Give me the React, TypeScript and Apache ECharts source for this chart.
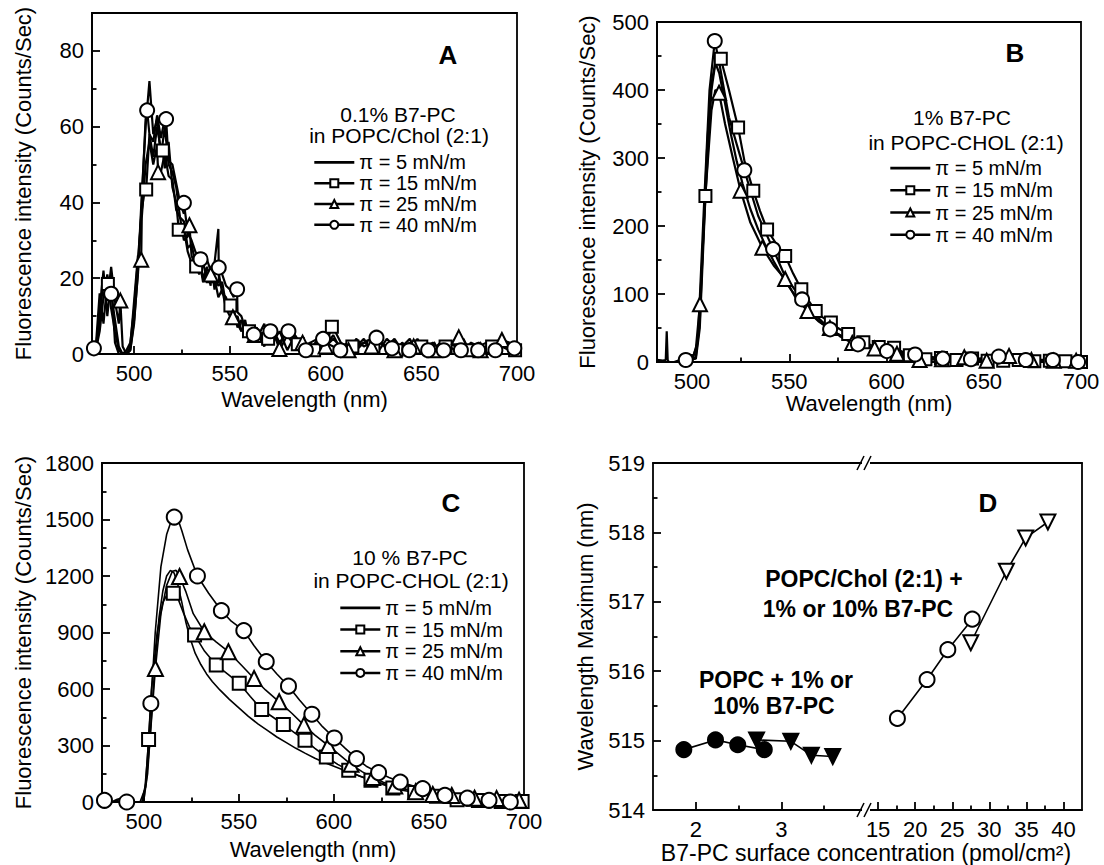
import React, { useEffect, useRef } from "react";
import * as echarts from "echarts";

const FONT = '"Liberation Sans", Arial, Helvetica, sans-serif';
const LEGEND_NAMES = ["π = 5 mN/m", "π = 15 mN/m", "π = 25 mN/m", "π = 40 mN/m"];

// ---------- tick values ----------
const WL_MAJOR = [500, 550, 600, 650, 700];
const WL_MINOR = [525, 575, 625, 675];
const A_Y_MAJOR = [0, 20, 40, 60, 80];
const A_Y_MINOR = [10, 30, 50, 70];
const B_Y_MAJOR = [0, 100, 200, 300, 400, 500];
const B_Y_MINOR = [50, 150, 250, 350, 450];
const C_Y_MAJOR = [0, 300, 600, 900, 1200, 1500, 1800];
const C_Y_MINOR = [150, 450, 750, 1050, 1350, 1650];
const D_Y_MAJOR = [514, 515, 516, 517, 518, 519];
const D_Y_MINOR = [514.5, 515.5, 516.5, 517.5, 518.5];
const D_XL_MAJOR = [2, 3];
const D_XL_MINOR = [2.5, 3.5];
const D_XR_MAJOR = [15, 20, 25, 30, 35, 40];
const D_XR_MINOR = [17.5, 22.5, 27.5, 32.5, 37.5];

// ---------- panel A (0.1% B7-PC) ----------
const A_WL = [480, 482, 484, 486, 488, 490, 492, 494, 496, 498, 500, 502, 504, 506, 508, 510, 512, 514, 516, 518, 520, 522, 524, 526, 528, 530, 532, 534, 536, 538, 540, 542, 544, 546, 548, 550, 552, 554, 556, 558, 560, 564, 568, 572, 576, 580, 584, 588, 592, 596, 600, 604, 608, 612, 616, 620, 624, 628, 632, 636, 640, 644, 648, 652, 656, 660, 664, 668, 672, 676, 680, 684, 688, 692, 696, 700];
const A_P5 = [1, 12, 22, 10, 20, 3, 0, 0, 0, 1, 8, 22, 42, 60, 72, 58, 62, 52, 60, 50, 48, 44, 36, 35, 28, 29, 24, 25, 20, 23, 19, 21, 18, 19, 13, 13, 9, 10, 6, 8, 5, 7, 3, 6, 2, 7, 3, 4, 1, 4, 2, 5, 1, 3, 2, 4, 1, 3, 2, 4, 1, 3, 2, 3, 1, 3, 2, 4, 1, 3, 2, 3, 1, 3, 2, 2];
const A_P15 = [2, 16, 8, 19, 12, 6, 1, 0, 1, 3, 12, 25, 38, 45, 58, 52, 60, 54, 49, 56, 44, 40, 32, 33, 27, 24, 26, 21, 24, 20, 21, 17, 22, 16, 15, 11, 12, 7, 9, 5, 7, 4, 8, 3, 6, 1, 5, 2, 3, 5, 2, 7, 3, 1, 4, 2, 3, 1, 4, 2, 3, 1, 4, 2, 3, 1, 3, 2, 4, 2, 3, 1, 3, 2, 3, 1];
const A_P25 = [0, 9, 20, 14, 23, 14, 8, 2, 0, 2, 14, 26, 36, 50, 56, 50, 55, 48, 53, 47, 46, 38, 36, 30, 31, 26, 23, 25, 19, 22, 18, 20, 15, 17, 12, 10, 11, 8, 6, 9, 4, 6, 2, 7, 1, 5, 2, 4, 2, 3, 1, 4, 2, 3, 1, 3, 2, 4, 1, 3, 2, 4, 1, 3, 2, 3, 1, 4, 3, 1, 3, 2, 3, 1, 3, 2];
const A_P40 = [1, 6, 15, 21, 15, 9, 2, 0, 0, 1, 9, 21, 40, 62, 58, 56, 63, 57, 62, 51, 50, 45, 40, 37, 32, 30, 27, 26, 24, 25, 22, 24, 33, 21, 18, 17, 15, 11, 10, 7, 5, 6, 5, 7, 3, 6, 5, 2, 3, 4, 3, 2, 1, 3, 2, 3, 4, 3, 2, 1, 2, 1, 2, 1, 2, 1, 2, 1, 2, 1, 2, 1, 1, 2, 1, 1];
const A_M15 = [[486.3, 18.5], [506.3, 43.4], [515, 53.7], [523.3, 32.8], [532.4, 23.1], [541.1, 20.5], [550.3, 12.8], [560, 6], [570, 4], [585.5, 2.6], [594, 1], [603.3, 7.2], [614, 2], [625, 2], [637, 1], [650, 2], [662.7, 2], [675, 1], [687, 2], [699, 1]];
const A_M25 = [[492.8, 14.1], [503.7, 24.9], [512.5, 48], [528.9, 34], [540, 21], [551.6, 9.7], [563, 5], [575.9, 1.3], [588, 3], [600, 2], [612, 1], [624, 2], [636, 1], [646, 2], [657, 1], [669.6, 4.4], [681, 1], [692.1, 3.7]];
const A_M40 = [[479, 1.5], [488, 15.9], [506.8, 64.3], [516.7, 62], [526, 39.9], [534.7, 25], [544.2, 22.8], [553.8, 17.1], [562.5, 5.1], [571.2, 6], [580.6, 6], [589.7, 1], [598.7, 4], [607.7, 1], [626.6, 4.3], [634.7, 1.5], [643.7, 1], [653.6, 1], [661.7, 1], [670.7, 1], [679.7, 1], [688.7, 1], [698.6, 1.5]];

// ---------- panel B (1% B7-PC) ----------
const B_P5_LINE = [[482, 3], [485, 2], [486.5, 3], [487, 45], [487.5, 3], [489, -4], [491, -5], [493, 0], [496, 3], [500, 3], [502, 8], [504, 60], [506, 200], [508, 330], [510, 410], [512, 440], [514, 425], [516, 395], [518, 365], [520, 335], [523, 295], [526, 262], [530, 225], [534, 195], [538, 170], [542, 148], [546, 128], [550, 110], [555, 90], [560, 74], [566, 58], [572, 46], [580, 33], [588, 24], [596, 17], [604, 12], [612, 9], [620, 6], [630, 4], [640, 3], [650, 3], [660, 2], [670, 2], [680, 2], [690, 1], [700, 1]];
const B_P15_LINE = [[482, 1], [488, -3], [493, 2], [498, 3], [502, 5], [504, 50], [510, 400], [512, 440], [519, 400], [527, 295], [535, 222], [543, 175], [552, 130], [560, 90], [567, 66], [575, 50], [584, 35], [592, 25]];
const B_P15_MARK = [[506.9, 244], [514.8, 446], [523.7, 345], [531.5, 252], [538.6, 195], [547.9, 156], [556.2, 107], [563.6, 75], [571.4, 58], [580.3, 41], [588.1, 29], [596, 22], [603.9, 21], [612, 10], [620, 4], [628, 6], [636, 3], [644, 5], [652, 2], [660, 2], [668, 3], [676, 1], [684, 2], [692, 1], [700, 0]];
const B_P25_LINE = [[482, 0], [488, -2], [494, 1], [500, 2], [502, 20], [507, 250], [510, 370], [512, 400], [517, 350], [521, 300], [530, 205], [542, 142], [553, 96], [565, 60], [576, 38], [588, 24], [600, 16]];
const B_P25_MARK = [[504.1, 85], [513.9, 396], [525, 252], [536.2, 168], [547.9, 122], [559.4, 75], [570.9, 50], [582.4, 28], [593.9, 20], [605.4, 12], [617, 3], [628.5, 4], [640, 7], [651.5, 2], [663, 9], [674.5, 3], [686, 2], [697.5, 2]];
const B_P40_LINE = [[482, 2], [486, 0], [490, -3], [493, 0], [500, 3], [503, 30], [506, 220], [509, 400], [514, 440], [519, 360], [523, 320], [534, 215], [548, 125], [563, 70], [578, 36]];
const B_P40_MARK = [[496.8, 3], [511.7, 472], [526.9, 282], [541.7, 166], [556.6, 92], [571, 48], [585.3, 26], [600.2, 16], [614.7, 11], [629, 5], [643.4, 4], [657.7, 8], [671.6, 3], [685.5, 3], [698.5, 0]];

// ---------- panel C (10% B7-PC) ----------
const C_P5_LINE = [[478, 8], [480, 0], [483, -5], [486, 15], [488, 20], [490, 5], [492, -8], [494, 0], [496, -5], [498, -3], [500, 10], [502, 150], [504, 450], [506, 750], [508, 980], [510, 1120], [512, 1200], [514, 1230], [516, 1215], [518, 1150], [520, 1060], [522, 960], [524, 880], [527, 790], [530, 730], [533, 680], [536, 640], [540, 595], [545, 545], [550, 500], [555, 455], [560, 415], [565, 380], [570, 345], [575, 315], [580, 285], [585, 258], [590, 232], [595, 210], [600, 190], [610, 150], [620, 115], [630, 85], [640, 62], [650, 44], [660, 30], [670, 19], [680, 11], [690, 6], [700, 3]];
const C_P15_LINE = [[478, 5], [481, -8], [484, 0], [487, 12], [490, -3], [493, -10], [496, -5], [499, 0], [501, 100], [504, 600], [507, 900], [510, 1060], [513, 1115], [518, 1080], [521, 1000], [524, 930], [532, 800], [544, 680], [556, 560], [568, 450], [579, 370], [590, 285], [602, 200], [613, 140], [625, 95], [636, 62], [648, 40], [659, 20], [670, 10], [682, 5], [694, 2], [700, 2]];
const C_P15_MARK = [[502.5, 332], [515.5, 1108], [526.7, 887], [538.1, 727], [550.2, 630], [562, 491], [573.4, 411], [584.8, 328], [596, 239], [607.8, 168], [619.5, 115], [631, 75], [642.5, 50], [653.9, 30], [664.8, 12], [676, 8], [688, 3], [699, 2]];
const C_P25_LINE = [[478, 0], [482, 5], [486, -5], [490, 10], [494, -5], [498, 0], [501, 80], [503, 300], [509, 1000], [512, 1150], [515, 1225], [517, 1230], [522, 1120], [526, 1000], [538, 850], [551, 730], [564, 595], [578, 470], [590, 355], [603, 250], [615, 160], [626, 105], [638, 68], [648, 48], [657, 38], [668, 28], [680, 15], [691, 12], [700, 6]];
const C_P25_MARK = [[506.1, 709], [518.8, 1197], [531.8, 904], [544.5, 798], [558, 656], [571.2, 532], [584.2, 408], [597, 300], [609, 200], [620.4, 130], [632, 85], [643, 55], [652, 40], [662, 35], [674, 20], [685.6, 18], [697.4, 9]];
const C_P40_LINE = [[482, -5], [485, 10], [488, -8], [494, -10], [497, -5], [500, 0], [502, 250], [506, 900], [509, 1250], [512, 1420], [514, 1480], [518, 1500], [520, 1440], [523, 1340], [534, 1110], [546, 960], [558, 830], [570, 680], [582, 540], [594, 400], [606, 285], [617, 190], [629, 130], [641, 88], [652, 52], [664, 28], [676, 15], [687, 5], [700, 0]];
const C_P40_MARK = [[479.3, 9], [491, 0], [503.7, 523], [516, 1513], [528.2, 1200], [540.8, 1016], [552.6, 910], [564.4, 745], [576.1, 615], [588.4, 466], [600.2, 340], [611.9, 230], [623.5, 156], [634.9, 106], [646.7, 71], [658.4, 35], [670.2, 21], [681.6, 9], [692.8, 0]];

// ---------- panel D (wavelength maximum) ----------
const D_POPC1_X = [1.86, 2.23, 2.49, 2.8];
const D_POPC1_Y = [514.87, 515.01, 514.94, 514.87];
const D_POPC10_X = [2.71, 3.11, 3.35, 3.6];
const D_POPC10_Y = [515.01, 514.99, 514.79, 514.77];
const D_CHOL1_X = [17.6, 21.6, 24.4, 27.7];
const D_CHOL1_Y = [515.32, 515.88, 516.31, 516.75];
const D_CHOL10_X = [27.5, 32.3, 34.9, 37.9];
const D_CHOL10_Y = [516.41, 517.44, 517.92, 518.15];

type P = number[];

function merged(line: P[], marks: P[]) {
  const items: any[] = [
    ...line.map((p) => ({ value: p, symbol: "none" })),
    ...marks.map((p) => ({ value: p })),
  ];
  items.sort((a, b) => a.value[0] - b.value[0]);
  return items;
}

function zip(xs: number[], ys: number[]) {
  return xs.map((x, i) => [x, ys[i]]);
}

function buildOption() {
  const xAxis: any[] = [];
  const yAxis: any[] = [];
  const lineSt = { color: "#000", width: 1.8 };
  const labelSt = { color: "#000", fontSize: 22, fontFamily: FONT, margin: 8, formatter: (v: number) => String(v) };
  const nameSt = { color: "#000", fontSize: 22, fontFamily: FONT };

  function addAxis(list: any[], dim: "x" | "y", grid: number, min: number, max: number, major: number[], minor: number[], extra: any = {}) {
    const pos = dim === "x" ? "bottom" : "left";
    const base = { type: "value", gridIndex: grid, min, max, position: pos, splitLine: { show: false }, minorTick: { show: false } };
    const idx = list.length;
    list.push({
      ...base,
      axisLine: { show: true, onZero: false, lineStyle: lineSt },
      axisTick: { show: true, inside: true, length: 8, customValues: major, lineStyle: lineSt },
      axisLabel: { ...labelSt, customValues: major },
      nameTextStyle: nameSt,
      nameLocation: "middle",
      ...extra,
    });
    list.push({
      ...base,
      axisLine: { show: false, onZero: false },
      axisTick: { show: true, inside: true, length: 4.5, customValues: minor, lineStyle: lineSt },
      axisLabel: { show: false },
    });
    return idx;
  }
  function addPlain(list: any[], grid: number, min: number, max: number, position: string) {
    const idx = list.length;
    list.push({
      type: "value", gridIndex: grid, min, max, position,
      axisLine: { show: true, onZero: false, lineStyle: lineSt },
      axisTick: { show: false }, axisLabel: { show: false }, splitLine: { show: false },
    });
    return idx;
  }

  const boxed = { show: true, borderColor: "#000", borderWidth: 1.8, backgroundColor: "transparent", outerBoundsMode: "none" };
  const grid = [
    { left: 92, top: 13, width: 425, height: 341, ...boxed },
    { left: 657, top: 22, width: 424, height: 340, ...boxed },
    { left: 102, top: 463, width: 422, height: 339, ...boxed },
    { left: 653, top: 463, width: 214, height: 347, show: false, outerBoundsMode: "none" },
    { left: 867, top: 463, width: 215, height: 347, show: false, outerBoundsMode: "none" },
  ];

  const yTitle = "Fluorescence intensity (Counts/Sec)";
  const xTitle = "Wavelength (nm)";

  const axA = addAxis(xAxis, "x", 0, 478, 700, WL_MAJOR, WL_MINOR, { name: xTitle, nameGap: 34 });
  const ayA = addAxis(yAxis, "y", 0, 0, 90, A_Y_MAJOR, A_Y_MINOR, { name: yTitle, nameGap: 58 });
  const axB = addAxis(xAxis, "x", 1, 482, 700, WL_MAJOR, WL_MINOR, { name: xTitle, nameGap: 26 });
  const ayB = addAxis(yAxis, "y", 1, 0, 500, B_Y_MAJOR, B_Y_MINOR, { name: yTitle, nameGap: 59 });
  const axC = addAxis(xAxis, "x", 2, 478, 700, WL_MAJOR, WL_MINOR, { name: xTitle, nameGap: 36 });
  const ayC = addAxis(yAxis, "y", 2, 0, 1800, C_Y_MAJOR, C_Y_MINOR, { name: yTitle, nameGap: 68 });
  const axDL = addAxis(xAxis, "x", 3, 1.5, 4, D_XL_MAJOR, D_XL_MINOR);
  addPlain(xAxis, 3, 1.5, 4, "top");
  const ayDL = addAxis(yAxis, "y", 3, 514, 519, D_Y_MAJOR, D_Y_MINOR, { name: "Wavelength Maximum (nm)", nameGap: 57 });
  const axDR = addAxis(xAxis, "x", 4, 13.5, 42.5, D_XR_MAJOR, D_XR_MINOR);
  addPlain(xAxis, 4, 13.5, 42.5, "top");
  const ayDR = addPlain(yAxis, 4, 514, 519, "right");

  function curve(name: string, data: any[], symbol: string, size: number, xi: number, yi: number, extra: any = {}) {
    return {
      type: "line", name, xAxisIndex: xi, yAxisIndex: yi, data, symbol, symbolSize: size,
      clip: true, silent: true, animation: false,
      lineStyle: { color: "#000", width: 2.2 },
      itemStyle: { color: "#000", borderColor: "#000", borderWidth: 2 },
      emphasis: { disabled: true },
      ...extra,
    };
  }

  const aLine = (vals: number[]) => A_WL.map((w, i) => [w, vals[i]]);
  const thin = { lineStyle: { color: "#000", width: 1.6 } };

  const series: any[] = [
    curve(LEGEND_NAMES[0], merged(aLine(A_P5), []), "none", 0, axA, ayA),
    curve(LEGEND_NAMES[1], merged(aLine(A_P15), A_M15), "emptyRect", 12, axA, ayA),
    curve(LEGEND_NAMES[2], merged(aLine(A_P25), A_M25), "emptyTriangle", 14, axA, ayA),
    curve(LEGEND_NAMES[3], merged(aLine(A_P40), A_M40), "emptyCircle", 14, axA, ayA),

    curve(LEGEND_NAMES[0], merged(B_P5_LINE, []), "none", 0, axB, ayB),
    curve(LEGEND_NAMES[1], merged(B_P15_LINE, B_P15_MARK), "emptyRect", 12, axB, ayB),
    curve(LEGEND_NAMES[2], merged(B_P25_LINE, B_P25_MARK), "emptyTriangle", 14, axB, ayB),
    curve(LEGEND_NAMES[3], merged(B_P40_LINE, B_P40_MARK), "emptyCircle", 14, axB, ayB),

    curve(LEGEND_NAMES[0], merged(C_P5_LINE, []), "none", 0, axC, ayC, thin),
    curve(LEGEND_NAMES[1], merged(C_P15_LINE, C_P15_MARK), "emptyRect", 13, axC, ayC, thin),
    curve(LEGEND_NAMES[2], merged(C_P25_LINE, C_P25_MARK), "emptyTriangle", 15, axC, ayC, thin),
    curve(LEGEND_NAMES[3], merged(C_P40_LINE, C_P40_MARK), "emptyCircle", 15, axC, ayC, thin),

    curve("POPC + 1% B7-PC", zip(D_POPC1_X, D_POPC1_Y), "circle", 15, axDL, ayDL, thin),
    curve("POPC + 10% B7-PC", zip(D_POPC10_X, D_POPC10_Y), "triangle", 15, axDL, ayDL, { symbolRotate: 180, ...thin }),
    curve("POPC/Chol + 1% B7-PC", zip(D_CHOL1_X, D_CHOL1_Y), "emptyCircle", 15, axDR, ayDR, thin),
    curve("POPC/Chol + 10% B7-PC", zip(D_CHOL10_X, D_CHOL10_Y), "emptyTriangle", 15, axDR, ayDR, { symbolRotate: 180, ...thin }),
  ];

  const legendData = [{ name: LEGEND_NAMES[0], itemStyle: { opacity: 0 } }, LEGEND_NAMES[1], LEGEND_NAMES[2], LEGEND_NAMES[3]];
  const mkLegend = (left: number, top: number, lh: number) => ({
    data: legendData, left, top, orient: "vertical", itemWidth: 40, itemHeight: 10, itemGap: 0, padding: 0,
    selectedMode: false, inactiveColor: "#000",
    lineStyle: { width: 2.6 },
    textStyle: { fontSize: 20, color: "#000", fontFamily: FONT, lineHeight: lh },
  });
  const legend = [mkLegend(313, 152, 20.8), mkLegend(889, 157, 22.2), mkLegend(339, 597, 21.7)];

  const txt = (text: string, x: number, y: number, size: number, bold = false) => ({
    type: "text", x, y, z: 100, silent: true,
    style: { text, fill: "#000", fontSize: size, fontFamily: FONT, fontWeight: bold ? "bold" : "normal", align: "center", verticalAlign: "middle", textAlign: "center", textVerticalAlign: "middle" },
  });
  const brk = (y: number) => [
    { type: "rect", z: 100, silent: true, shape: { x: 862, y: y - 4, width: 8, height: 8 }, style: { fill: "#fff" } },
    { type: "line", z: 101, silent: true, shape: { x1: 857, y1: y + 7, x2: 864, y2: y - 7 }, style: { stroke: "#000", lineWidth: 1.6 } },
    { type: "line", z: 101, silent: true, shape: { x1: 864, y1: y + 7, x2: 871, y2: y - 7 }, style: { stroke: "#000", lineWidth: 1.6 } },
  ];

  const graphic = [
    txt("A", 448, 55, 26, true),
    txt("B", 1015, 53, 26, true),
    txt("C", 451, 503, 26, true),
    txt("D", 988, 503, 26, true),
    txt("0.1% B7-PC", 398, 114, 21),
    txt("in POPC/Chol (2:1)", 399, 135, 21),
    txt("1% B7-PC", 962, 117, 21),
    txt("in POPC-CHOL (2:1)", 966, 142, 21),
    txt("10 % B7-PC", 410, 557, 21),
    txt("in POPC-CHOL (2:1)", 411, 580, 21),
    txt("POPC/Chol (2:1) +", 864, 579, 23, true),
    txt("1% or 10% B7-PC", 858, 609, 23, true),
    txt("POPC + 1% or", 776, 680, 23, true),
    txt("10% B7-PC", 774, 706, 23, true),
    txt("B7-PC surface concentration (pmol/cm²)", 866, 853, 23),
    ...brk(463),
    ...brk(810),
  ];

  return {
    animation: false,
    backgroundColor: "#fff",
    textStyle: { fontFamily: FONT },
    grid, xAxis, yAxis, series, legend, graphic,
  };
}

export default function App() {
  const ref = useRef<HTMLDivElement>(null);
  useEffect(() => {
    document.body.style.margin = "0";
    const chart = echarts.init(ref.current as HTMLDivElement, undefined, { renderer: "svg" });
    chart.setOption(buildOption() as any);
    return () => chart.dispose();
  }, []);
  return <div ref={ref} style={{ width: 1104, height: 865 }} />;
}
